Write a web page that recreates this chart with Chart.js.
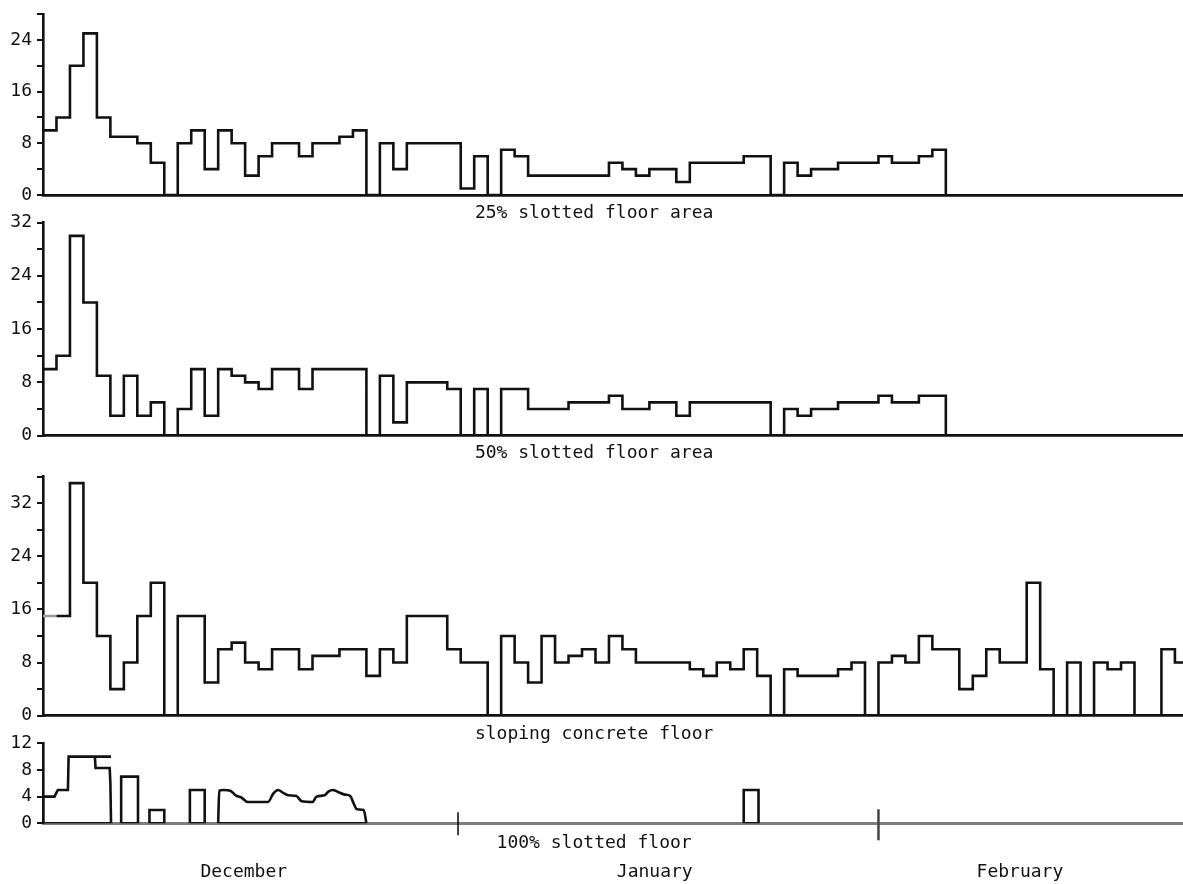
<!DOCTYPE html>
<html>
<head>
<meta charset="utf-8">
<title>Daily records by floor type</title>
<script src="https://cdn.jsdelivr.net/npm/chart.js@4.4.1/dist/chart.umd.min.js"></script>
<style>
  html, body { margin: 0; padding: 0; background: #fff; }
  #wrap { position: relative; width: 1183px; height: 884px; overflow: hidden; }
  #wrap canvas { position: absolute; left: 0; top: 0; }
</style>
</head>
<body>
<div id="wrap">
  <canvas id="chart25" width="1183" height="884"></canvas>
  <canvas id="chart50" width="1183" height="884"></canvas>
  <canvas id="chartSloping" width="1183" height="884"></canvas>
  <canvas id="chart100" width="1183" height="884"></canvas>
</div>
<script>
// Values, one value per day (day 0 = first day of the record)
const slot25 = [10, 12, 20, 25, 12, 9, 9, 8, 5, 0, 8, 10, 4, 10, 8, 3, 6, 8, 8, 6, 8, 8, 9, 10, 0,
                8, 4, 8, 8, 8, 8, 1, 6, 0, 7, 6, 3, 3, 3, 3, 3, 3, 5, 4, 3, 4, 4, 2, 5, 5, 5, 5, 6, 6, 0,
                5, 3, 4, 4, 5, 5, 5, 6, 5, 5, 6, 7, 0];
const slot50 = [10, 12, 30, 20, 9, 3, 9, 3, 5, 0, 4, 10, 3, 10, 9, 8, 7, 10, 10, 7, 10, 10, 10, 10, 0,
                9, 2, 8, 8, 8, 7, 0, 7, 0, 7, 7, 4, 4, 4, 5, 5, 5, 6, 4, 4, 5, 5, 3, 5, 5, 5, 5, 5, 5, 0,
                4, 3, 4, 4, 5, 5, 5, 6, 5, 5, 6, 6, 0];
const sloping = [15, 15, 35, 20, 12, 4, 8, 15, 20, 0, 15, 15, 5, 10, 11, 8, 7, 10, 10, 7, 9, 9, 10, 10, 6,
                 10, 8, 15, 15, 15, 10, 8, 8, 0, 12, 8, 5, 12, 8, 9, 10, 8, 12, 10, 8, 8, 8, 8, 7, 6, 8, 7,
                 10, 6, 0, 7, 6, 6, 6, 7, 8, 0, 8, 9, 8, 12, 10, 10, 4, 6, 10, 8, 8, 20, 7, 0, 8, 0, 8, 7,
                 8, 0, 0, 10, 8];

// 100% slotted floor: pen traces as [day, value] pairs (blocks and the wavy stretch)
const slot100Blocks = [
    [[0, 0], [0, 4], [0.85, 4], [1.1, 5], [1.85, 5], [1.9, 10], [5.05, 10]],
    [[3.85, 10], [3.9, 8.3], [4.95, 8.3], [5.0, 6], [5.05, 0], [0, 0]],
    [[5.8, 0], [5.8, 7], [7.05, 7], [7.05, 0], [5.8, 0]],
    [[7.9, 0], [7.9, 2], [9.0, 2], [9.0, 0], [7.9, 0]],
    [[10.9, 0], [10.9, 5], [12.0, 5], [12.0, 0], [10.9, 0]],
    [[13.0, 0], [24.0, 0]],
    [[52.0, 0], [52.0, 5], [53.1, 5], [53.1, 0], [52.0, 0]]
];
const slot100Wave = [[13.0, 0], [13.08, 4.9], [13.4, 5], [13.9, 4.9], [14.3, 4.2], [14.7, 3.9], [15.2, 3.2],
                     [16.7, 3.2], [17.1, 4.5], [17.45, 5], [17.8, 4.6], [18.2, 4.2], [18.8, 4.1], [19.2, 3.3],
                     [20.0, 3.2], [20.3, 4], [20.9, 4.2], [21.2, 4.8], [21.5, 5], [21.9, 4.7], [22.4, 4.3],
                     [22.8, 4.1], [23.05, 3], [23.3, 2.1], [23.8, 2], [24.0, 0]];

// Axis texts
const panelTitles = ['25% slotted floor area', '50% slotted floor area', 'sloping concrete floor', '100% slotted floor'];
const yMaxValues = [28, 32, 36, 12];
const yLabelEvery = [8, 8, 8, 4];
const monthNames = ['December', 'January', 'February'];
const monthLabelDays = [14.9, 45.4, 72.5];
const monthStartDays = [30.8, 62.0];

const X_MAX = 84.6;      // last day shown at the right edge
const TITLE_DAY = 40.9;  // where the panel captions are centred
const INK = '#111';
const FONT = '"DejaVu Sans Mono", "Liberation Mono", monospace';

// Draws the caption under each panel (and the month line under the last one)
const captionPlugin = {
    id: 'caption',
    afterDraw(chart, args, opts) {
        const { ctx, chartArea, scales } = chart;
        const x = scales.x;
        ctx.save();
        ctx.font = '18px ' + FONT;
        ctx.fillStyle = INK;
        ctx.textAlign = 'center';
        ctx.textBaseline = 'middle';
        ctx.fillText(opts.text, x.getPixelForValue(TITLE_DAY), chartArea.bottom + opts.gap);

        if (opts.months) {
            monthNames.forEach((m, i) => {
                ctx.fillText(m, x.getPixelForValue(monthLabelDays[i]), chartArea.bottom + 49);
            });
            // month boundary marks on the base line
            ctx.lineCap = 'butt';
            ctx.strokeStyle = INK;
            ctx.lineWidth = 1.6;
            let px = x.getPixelForValue(monthStartDays[0]);
            ctx.beginPath();
            ctx.moveTo(px, chartArea.bottom - 11);
            ctx.lineTo(px, chartArea.bottom + 12);
            ctx.stroke();
            ctx.strokeStyle = '#444';
            ctx.lineWidth = 2.5;
            px = x.getPixelForValue(monthStartDays[1]);
            ctx.beginPath();
            ctx.moveTo(px, chartArea.bottom - 14);
            ctx.lineTo(px, chartArea.bottom + 17);
            ctx.stroke();
        }
        ctx.restore();
    }
};

// Turn a daily array into step points; the last value is held to `endDay`
function dailyPoints(values, endDay) {
    const pts = values.map((v, i) => ({ x: i, y: v }));
    if (endDay !== undefined) pts.push({ x: endDay, y: values[values.length - 1] });
    return pts;
}

function makePanel(canvasId, idx, top, bottom, datasets, extra) {
    return new Chart(document.getElementById(canvasId), {
        type: 'line',
        data: { datasets: datasets },
        options: {
            responsive: false,
            animation: false,
            events: [],
            layout: { padding: { top: top, bottom: 884 - bottom, left: 0, right: 0 } },
            elements: {
                point: { radius: 0 },
                line: { borderColor: INK, borderWidth: 2.6, tension: 0, borderJoinStyle: 'miter', fill: false }
            },
            plugins: {
                legend: { display: false },
                tooltip: { enabled: false },
                caption: { text: panelTitles[idx], gap: extra.gap, months: extra.months }
            },
            scales: {
                x: {
                    type: 'linear',
                    min: 0,
                    max: X_MAX,
                    ticks: { display: false },
                    grid: { display: false },
                    border: { color: extra.baseColor, width: extra.baseWidth },
                    afterFit: s => { s.height = 0; }
                },
                y: {
                    min: 0,
                    max: yMaxValues[idx],
                    ticks: {
                        stepSize: 4,
                        autoSkip: false,
                        padding: 5,
                        color: INK,
                        font: { family: FONT, size: 18, lineHeight: 1 },
                        callback: v => (v % yLabelEvery[idx] === 0 ? String(v) : '')
                    },
                    grid: { drawOnChartArea: false, drawTicks: true, tickLength: 6, color: INK, lineWidth: 2 },
                    border: { color: INK, width: 2.6 },
                    afterFit: s => { s.width = 43; }
                }
            }
        },
        plugins: [captionPlugin]
    });
}

// Panel 1 - 25% slotted floor area
makePanel('chart25', 0, 10, 195, [
    { data: dailyPoints(slot25), stepped: true }
], { gap: 18, months: false, baseColor: INK, baseWidth: 2.8 });

// Panel 2 - 50% slotted floor area
makePanel('chart50', 1, 222.5, 435.7, [
    { data: dailyPoints(slot50), stepped: true }
], { gap: 18, months: false, baseColor: INK, baseWidth: 2.8 });

// Panel 3 - sloping concrete floor (first stretch was drawn in grey)
makePanel('chartSloping', 2, 476.5, 715.7, [
    {
        data: dailyPoints(sloping, X_MAX),
        stepped: true,
        segment: { borderColor: c => (c.p0DataIndex === 0 ? '#9a9a9a' : undefined) }
    }
], { gap: 19, months: false, baseColor: INK, baseWidth: 2.8 });

// Panel 4 - 100% slotted floor
const blockSets = slot100Blocks.map(b => ({ data: b.map(p => ({ x: p[0], y: p[1] })) }));
blockSets.push({
    data: slot100Wave.map(p => ({ x: p[0], y: p[1] })),
    cubicInterpolationMode: 'monotone'
});
makePanel('chart100', 3, 743.3, 823.3, blockSets,
    { gap: 20, months: true, baseColor: '#7d7d7d', baseWidth: 3 });
</script>
</body>
</html>
